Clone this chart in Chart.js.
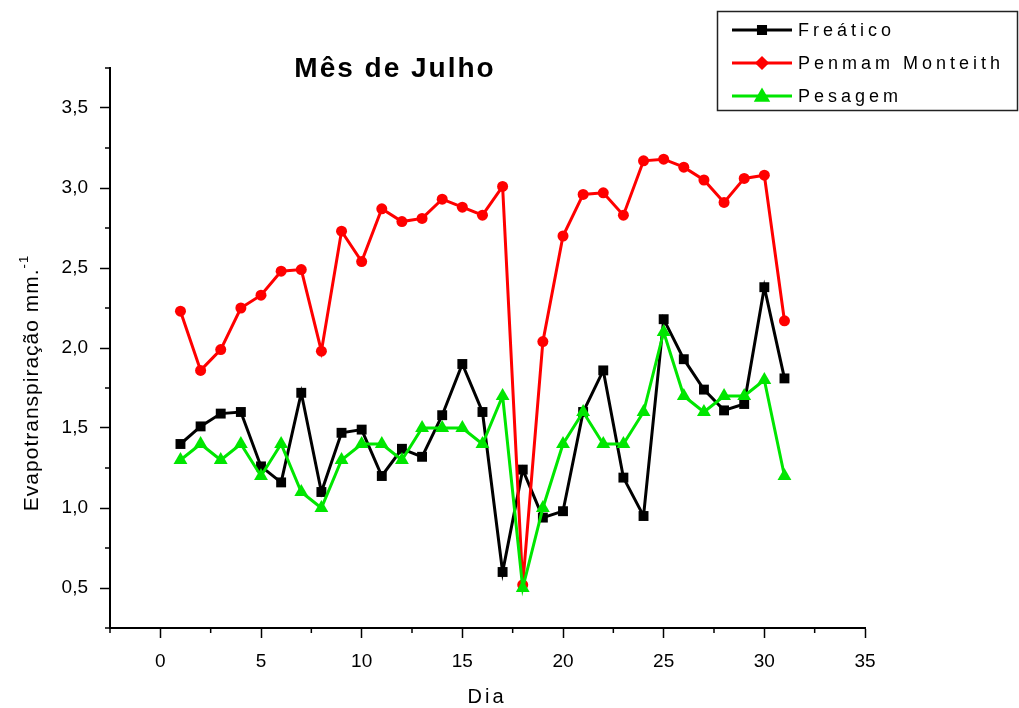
<!DOCTYPE html>
<html>
<head>
<meta charset="utf-8">
<script src="https://cdn.jsdelivr.net/npm/chart.js@4/dist/chart.umd.min.js"></script>
<style>
  body { margin: 0; background: #fff; }
  #wrap { width: 1019px; height: 708px; }
</style>
</head>
<body>
<div id="wrap"><canvas id="chart" width="1019" height="708"></canvas></div>
<script>
// dias do mês de julho
const days = [1,2,3,4,5,6,7,8,9,10,11,12,13,14,15,16,17,18,19,20,21,22,23,24,25,26,27,28,29,30,31];

const freatico = [1.40,1.51,1.59,1.60,1.26,1.16,1.72,1.10,1.47,1.49,1.20,1.37,1.32,1.58,1.90,1.60,
                  0.60,1.24,0.94,0.98,1.60,1.86,1.19,0.95,2.18,1.93,1.74,1.61,1.65,2.38,1.81];
const penman = [2.23,1.86,1.99,2.25,2.33,2.48,2.49,1.98,2.73,2.54,2.87,2.79,2.81,2.93,2.88,2.83,
                3.01,0.52,2.04,2.70,2.96,2.97,2.83,3.17,3.18,3.13,3.05,2.91,3.06,3.08,2.17];
const pesagem = [1.3,1.4,1.3,1.4,1.2,1.4,1.1,1.0,1.3,1.4,1.4,1.3,1.5,1.5,1.5,1.4,
                 1.7,0.5,1.0,1.4,1.6,1.4,1.4,1.6,2.1,1.7,1.6,1.7,1.7,1.8,1.2];

const seriesNames = ['Freático', 'Penmam Monteith', 'Pesagem'];
const xTicks = [0, 5, 10, 15, 20, 25, 30, 35];
const yTicks = [0.5, 1.0, 1.5, 2.0, 2.5, 3.0, 3.5];

const BLACK = '#000000', RED = '#ff0000', GREEN = '#00e600';
const FONT = '"Liberation Sans", Arial, sans-serif';

function toPoints(vals) {
    return days.map((d, i) => ({ x: d, y: vals[i] }));
}

const isMajorX = v => xTicks.includes(v);
const isMajorY = v => yTicks.some(t => Math.abs(t - v) < 1e-6);

// minor ticks, legenda, título e rótulos dos eixos
const extras = {
    id: 'extras',
    afterDraw(chart) {
        const ctx = chart.ctx;
        const xs = chart.scales.x, ys = chart.scales.y;
        const area = chart.chartArea;
        ctx.save();
        ctx.strokeStyle = '#000';
        ctx.lineWidth = 1.5;
        xs.ticks.forEach(t => {
            if (isMajorX(t.value)) return;
            const px = xs.getPixelForValue(t.value);
            ctx.beginPath(); ctx.moveTo(px, area.bottom); ctx.lineTo(px, area.bottom + 5); ctx.stroke();
        });
        ys.ticks.forEach(t => {
            if (isMajorY(t.value)) return;
            const py = ys.getPixelForValue(t.value);
            ctx.beginPath(); ctx.moveTo(area.left - 5, py); ctx.lineTo(area.left, py); ctx.stroke();
        });

        // título
        ctx.fillStyle = '#000';
        ctx.font = 'bold 28px ' + FONT;
        ctx.letterSpacing = '2px';
        ctx.textAlign = 'center';
        ctx.textBaseline = 'alphabetic';
        ctx.fillText('Mês de Julho', 395, 77);

        // eixo x
        ctx.font = '20px ' + FONT;
        ctx.letterSpacing = '3px';
        ctx.fillText('Dia', 487, 703);

        // eixo y (com expoente)
        ctx.save();
        ctx.translate(38, 383);
        ctx.rotate(-Math.PI / 2);
        ctx.font = '21px ' + FONT;
        ctx.letterSpacing = '1px';
        const main = 'Evapotranspiração mm.';
        const wMain = ctx.measureText(main).width;
        ctx.font = '13px ' + FONT;
        const sup = '-1';
        const wSup = ctx.measureText(sup).width;
        const start = -(wMain + wSup) / 2;
        ctx.textAlign = 'left';
        ctx.font = '21px ' + FONT;
        ctx.fillText(main, start, 0);
        ctx.font = '13px ' + FONT;
        ctx.fillText(sup, start + wMain, -10);
        ctx.restore();

        // legenda
        ctx.letterSpacing = '0px';
        ctx.strokeStyle = '#222';
        ctx.lineWidth = 1.5;
        ctx.strokeRect(717.5, 11.5, 300, 99);
        chart.data.datasets.forEach((ds, i) => {
            const y = 30 + i * 33;
            ctx.strokeStyle = ds.borderColor;
            ctx.lineWidth = 3;
            ctx.beginPath(); ctx.moveTo(732, y); ctx.lineTo(792, y); ctx.stroke();
            ctx.fillStyle = ds.borderColor;
            ctx.strokeStyle = ds.borderColor;
            const style = i === 1 ? 'rectRot' : ds.pointStyle;
            const r = i === 0 ? 5 : (i === 1 ? 5 : 6.5);
            Chart.helpers.drawPoint(ctx, { pointStyle: style, radius: r, borderWidth: 1 }, 762, y + (i === 2 ? 1 : 0));
            ctx.fillStyle = '#000';
            ctx.font = '18px ' + FONT;
            ctx.letterSpacing = '4px';
            ctx.textAlign = 'left';
            ctx.textBaseline = 'middle';
            ctx.fillText(ds.label, 798, y + 1);
        });
        ctx.restore();
    }
};

new Chart(document.getElementById('chart'), {
    type: 'line',
    data: {
        datasets: [
            {
                label: seriesNames[0],
                data: toPoints(freatico),
                borderColor: BLACK, backgroundColor: BLACK,
                borderWidth: 3, pointStyle: 'rect', pointRadius: 7,
                pointBorderWidth: 0, order: 2
            },
            {
                label: seriesNames[1],
                data: toPoints(penman),
                borderColor: RED, backgroundColor: RED,
                borderWidth: 3, pointStyle: 'circle', pointRadius: 5.5,
                pointBorderWidth: 0, order: 1
            },
            {
                label: seriesNames[2],
                data: toPoints(pesagem),
                borderColor: GREEN, backgroundColor: GREEN,
                borderWidth: 3, pointStyle: 'triangle', pointRadius: 8,
                pointBorderWidth: 0, order: 0
            }
        ]
    },
    options: {
        responsive: false,
        animation: false,
        layout: { padding: { left: 0, right: 154, top: 68, bottom: 0 } },
        plugins: {
            legend: { display: false },
            title: { display: false },
            tooltip: { enabled: false }
        },
        scales: {
            x: {
                type: 'linear',
                min: -2.5, max: 35,
                afterFit: s => { s.height = 80; },
                ticks: {
                    stepSize: 2.5, autoSkip: false, maxRotation: 0,
                    padding: 12, color: '#000',
                    font: { family: FONT, size: 19 },
                    callback: v => isMajorX(v) ? String(v) : ''
                },
                grid: {
                    drawOnChartArea: false, tickLength: 10, tickWidth: 1.5,
                    tickColor: c => (c.tick && isMajorX(c.tick.value)) ? '#000' : 'transparent'
                },
                border: { display: true, color: '#000', width: 2 }
            },
            y: {
                min: 0.25, max: 3.75,
                afterFit: s => { s.width = 110; },
                ticks: {
                    stepSize: 0.25, autoSkip: false,
                    padding: 12, color: '#000',
                    font: { family: FONT, size: 19 },
                    callback: v => isMajorY(v) ? v.toFixed(1).replace('.', ',') : ''
                },
                grid: {
                    drawOnChartArea: false, tickLength: 10, tickWidth: 1.5,
                    tickColor: c => (c.tick && isMajorY(c.tick.value)) ? '#000' : 'transparent'
                },
                border: { display: true, color: '#000', width: 2 }
            }
        }
    },
    plugins: [extras]
});
</script>
</body>
</html>
